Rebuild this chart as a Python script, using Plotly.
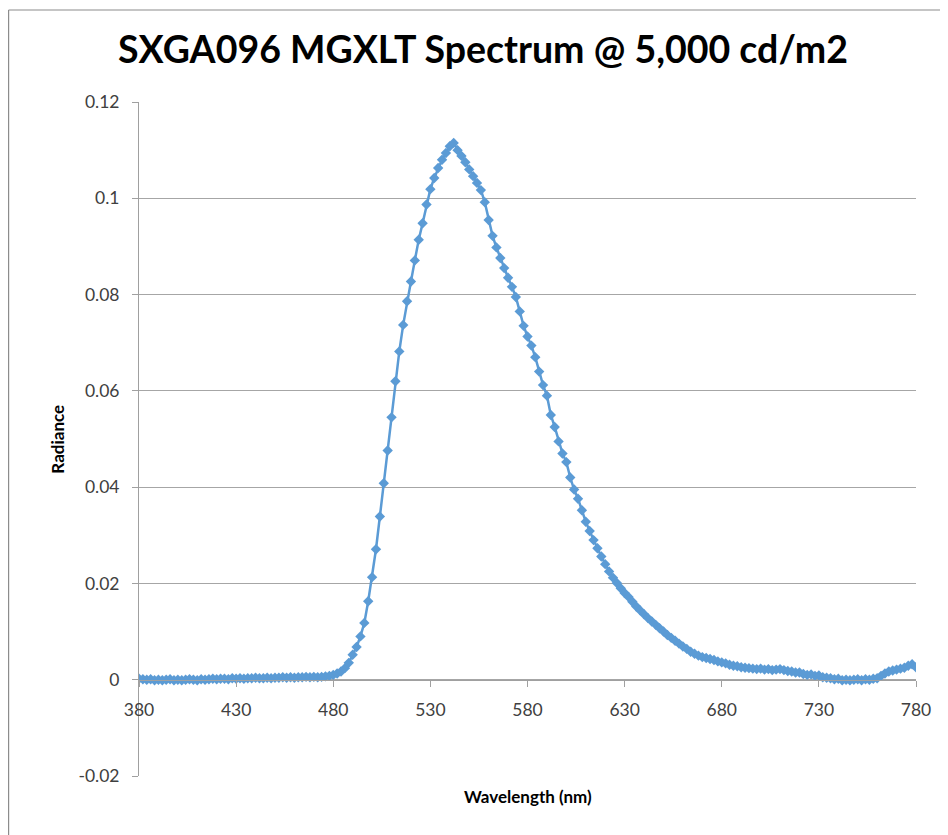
import plotly.graph_objects as go

wavelength = list(range(380, 781, 2))

baseline = [0.0002, 0.0001, 0.0000, 0.0001, -0.0001, 0.0000, -0.0001, 0.0000, 0.0001, -0.0001,
            0.0000, -0.0001, 0.0000, 0.0001, 0.0000, -0.0001, 0.0001, 0.0000, 0.0001, 0.0002,
            0.0001, 0.0002, 0.0002, 0.0001, 0.0003, 0.0002, 0.0003, 0.0002, 0.0003, 0.0003,
            0.0004, 0.0003, 0.0003, 0.0004, 0.0003, 0.0004, 0.0004, 0.0005, 0.0004, 0.0005,
            0.0004, 0.0005, 0.0005, 0.0006, 0.0005, 0.0006]  # 380..470
rise = [0.0005, 0.0006, 0.0007, 0.0008, 0.0010, 0.0013, 0.0017, 0.0024, 0.0035, 0.0052,
        0.0068, 0.0090, 0.0118, 0.0163, 0.0213, 0.0271, 0.0339, 0.0408, 0.0476, 0.0545,
        0.0620, 0.0682, 0.0737, 0.0786, 0.0827, 0.0871, 0.0914, 0.0948, 0.0987, 0.1019,
        0.1042, 0.1063, 0.1080, 0.1094, 0.1108, 0.1115]  # 472..542
fall = [0.1100, 0.1088, 0.1075, 0.1060, 0.1046, 0.1032, 0.1017, 0.0992, 0.0955, 0.0922,
        0.0898, 0.0876, 0.0855, 0.0835, 0.0816, 0.0795, 0.0765, 0.0735, 0.0713, 0.0694,
        0.0670, 0.0640, 0.0612, 0.0590, 0.0550, 0.0525, 0.0495, 0.0470, 0.0452, 0.0420,
        0.0395, 0.0376, 0.0352, 0.0328, 0.0309, 0.0290, 0.0273, 0.0256, 0.0240, 0.0225,
        0.0212, 0.0201, 0.0190, 0.0180, 0.0172, 0.0162, 0.0152, 0.0144]  # 544..638
tail = [0.0136, 0.0128, 0.0121, 0.0114, 0.0107, 0.0100, 0.0093, 0.0087, 0.0081, 0.0075,
        0.0069, 0.0064, 0.0058, 0.0054, 0.0050, 0.0047, 0.0045, 0.0043, 0.0041, 0.0038,
        0.0036, 0.0034, 0.0031, 0.0029, 0.0028, 0.0026, 0.0025, 0.0024, 0.0023, 0.0022,
        0.0023, 0.0021, 0.0022, 0.0020, 0.0021, 0.0022, 0.0020, 0.0018, 0.0017, 0.0015,
        0.0015, 0.0012, 0.0010, 0.0011, 0.0008, 0.0009, 0.0005, 0.0004, 0.0003, 0.0001,
        0.0002, -0.0001, 0.0000, -0.0001, 0.0000, 0.0001, -0.0001, 0.0001, 0.0000, 0.0002,
        0.0003, 0.0008, 0.0013, 0.0017, 0.0019, 0.0021, 0.0023, 0.0025, 0.0029, 0.0032,
        0.0026]  # 640..780
radiance = baseline + rise + fall + tail

x_ticks = [380, 430, 480, 530, 580, 630, 680, 730, 780]
y_ticks = [-0.02, 0, 0.02, 0.04, 0.06, 0.08, 0.1, 0.12]
y_tick_labels = ["-0.02", "0", "0.02", "0.04", "0.06", "0.08", "0.1", "0.12"]

title_text = "SXGA096 MGXLT Spectrum @ 5,000 cd/m2"
x_title = "Wavelength (nm)"
y_title = "Radiance"

FONT = "Lato, Open Sans, sans-serif"
COLOR = "#5B9BD5"

L, T, PW, PH = 131, 94, 777, 674
W, H = 948, 835

fig = go.Figure()
fig.add_trace(go.Scatter(
    x=wavelength, y=radiance, mode="lines+markers",
    line=dict(color=COLOR, width=2.5),
    marker=dict(symbol="diamond", size=8, color=COLOR),
    showlegend=False,
))

frame_line = dict(color="#8C8C8C", width=1.2)
top_y = 1 + (T - 2) / PH
left_x = (0.6 - L) / PW

fig.update_layout(
    width=W, height=H,
    margin=dict(l=L, r=W - L - PW, t=T, b=H - T - PH),
    paper_bgcolor="white", plot_bgcolor="white",
    font=dict(family=FONT, size=17, color="#404040"),
    title=dict(text=f"<b>{title_text}</b>", x=(475) / W, xref="container", xanchor="center",
               y=1 - 42 / H, yref="container", yanchor="middle",
               font=dict(family=FONT, size=37.5, color="black")),
    xaxis=dict(range=[380, 780], tickvals=x_ticks, showgrid=False, zeroline=False,
               showline=True, linecolor="#A0A0A0", linewidth=1,
               ticks="outside", ticklen=6, tickcolor="#A0A0A0",
               anchor="free", position=0.02 / 0.14, ticklabelstandoff=8,
               tickfont=dict(size=17.5, color="#404040")),
    yaxis=dict(range=[-0.02, 0.12], tickvals=y_ticks, ticktext=y_tick_labels,
               showgrid=True, gridcolor="#A6A6A6", gridwidth=1, zeroline=False,
               showline=True, linecolor="#A0A0A0", linewidth=1,
               ticks="outside", ticklen=6, tickcolor="#A0A0A0", ticklabelstandoff=9,
               tickfont=dict(size=17.5, color="#404040")),
    annotations=[
        dict(text=f"<b>{x_title}</b>", xref="paper", yref="paper", x=0.5, y=-0.012,
             xanchor="center", yanchor="top", showarrow=False,
             font=dict(family=FONT, size=17, color="black")),
        dict(text=f"<b>{y_title}</b>", xref="paper", yref="paper", x=-0.106, y=0.5,
             xanchor="center", yanchor="middle", showarrow=False, textangle=-90,
             font=dict(family=FONT, size=17, color="black")),
    ],
    shapes=[
        dict(type="line", xref="paper", yref="paper", x0=left_x, x1=(W - L) / PW,
             y0=top_y, y1=top_y, line=frame_line, layer="above"),
        dict(type="line", xref="paper", yref="paper", x0=left_x, x1=left_x,
             y0=top_y, y1=-(H - T - PH) / PH, line=frame_line, layer="above"),
    ],
)

fig.write_html("out.html")
